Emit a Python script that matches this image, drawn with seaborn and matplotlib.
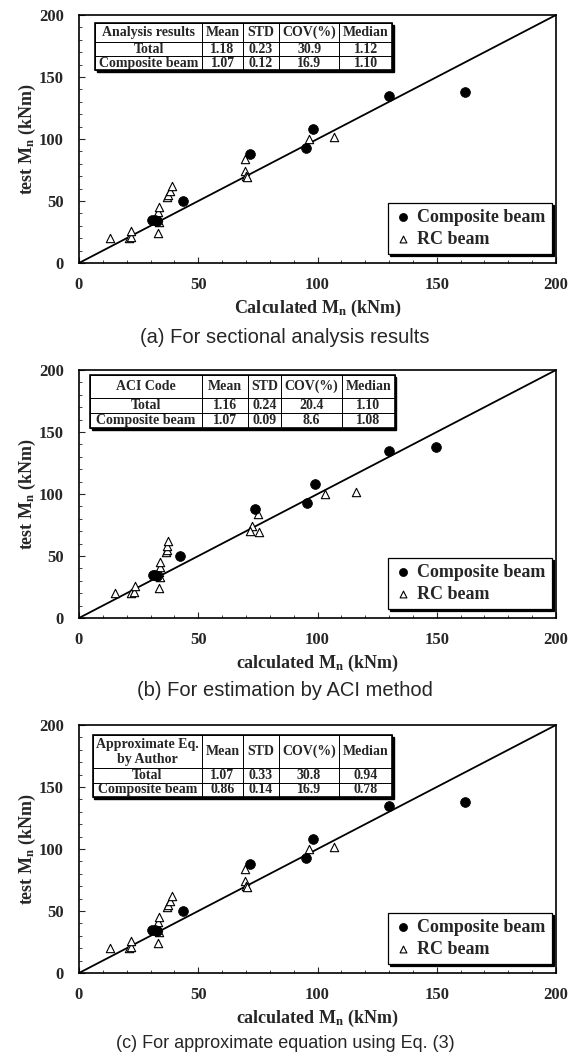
import matplotlib
matplotlib.use("Agg")
import matplotlib.pyplot as plt
from matplotlib.patches import Rectangle
from matplotlib.ticker import MultipleLocator
import pandas as pd
import seaborn as sns

# Measured (test) moment capacities in kNm -- the same specimens in every panel
test_comp = [35, 34.5, 33.5, 50, 88, 93, 108, 135, 138]
test_rc = [20, 20, 21, 26, 24.5, 33, 37, 41, 45, 53, 55, 58, 62, 84, 74, 70, 69, 100, 102]

# Calculated moment capacities (kNm) for each method
calc_comp_a = [30.5, 32, 32.5, 43.5, 71.5, 95, 98, 130, 162]
calc_rc_a = [13, 21, 22, 22, 33, 33.5, 33, 33, 33.5, 37, 37.5, 38, 39, 69.5, 69.5, 70, 70.5, 96.5, 107]

calc_comp_b = [31, 32, 32.5, 42.5, 74, 95.5, 99, 130, 149.5]
calc_rc_b = [15, 22, 23, 23.5, 33.5, 34, 33.5, 34, 34, 36.5, 37, 37, 37.5, 75, 72.5, 71.5, 75.5, 103, 116]

calc_comp_c = [30.5, 32, 32.5, 43.5, 71.5, 95, 98, 130, 162]
calc_rc_c = [13, 21, 22, 22, 33, 33.5, 33, 33, 33.5, 37, 37.5, 38, 39, 69.5, 69.5, 70, 70.5, 96.5, 107]

# Summary statistics tables
stat_cols = ["Mean", "STD", "COV(%)", "Median"]
row_names = ["Total", "Composite beam"]
stats_a = [["1.18", "0.23", "30.9", "1.12"], ["1.07", "0.12", "16.9", "1.10"]]
stats_b = [["1.16", "0.24", "20.4", "1.10"], ["1.07", "0.09", "8.6", "1.08"]]
stats_c = [["1.07", "0.33", "30.8", "0.94"], ["0.86", "0.14", "16.9", "0.78"]]
table_titles = ["Analysis results", "ACI Code", "Approximate Eq.\nby Author"]

x_words = ["Calculated", "calculated", "calculated"]
captions = ["(a) For sectional analysis results",
            "(b) For estimation by ACI method",
            "(c) For approximate equation using Eq. (3)"]
caption_sizes = [14.5, 14.5, 13]

sns.set_style("ticks")
SERIF = "Liberation Serif"
SANS = "Liberation Sans"
plt.rcParams["font.family"] = [SERIF, "DejaVu Serif"]
plt.rcParams["font.weight"] = "bold"
plt.rcParams["mathtext.fontset"] = "custom"
plt.rcParams["mathtext.rm"] = "Liberation Serif:bold"
plt.rcParams["mathtext.bf"] = "Liberation Serif:bold"
plt.rcParams["mathtext.it"] = "Liberation Serif:bold"

fig = plt.figure(figsize=(5.70, 10.54), dpi=100)

W, H = 570.0, 1054.0
ax_left, ax_w = 79 / W, 477 / W
ax_h = 248 / H
bottoms_px = [263, 618, 973]
caption_px = [337, 691, 1043]

panels = [
    (calc_comp_a, calc_rc_a, stats_a, [0.0335, 0.778, 0.623, 0.190], [107, 41, 36, 60, 53], [1.4, 1.0, 1.0]),
    (calc_comp_b, calc_rc_b, stats_b, [0.023, 0.766, 0.639, 0.214], [112, 46, 33, 61, 53], [1.5, 1.0, 1.0]),
    (calc_comp_c, calc_rc_c, stats_c, [0.029, 0.710, 0.627, 0.250], [109, 41, 36, 60, 53], [2.3, 1.0, 1.0]),
]

for i, (cc, cr, stats, tbox, cw, rh) in enumerate(panels):
    b = bottoms_px[i]
    ax = fig.add_axes([ax_left, 1 - b / H, ax_w, ax_h])

    df_c = pd.DataFrame({"calc": cc, "test": test_comp})
    df_r = pd.DataFrame({"calc": cr, "test": test_rc})

    # line of equality
    sns.lineplot(x=[0, 200], y=[0, 200], color="black", linewidth=1.3, ax=ax, zorder=2)

    sns.scatterplot(data=df_c, x="calc", y="test", marker="o", s=50, color="black",
                    edgecolor="black", linewidth=0.5, ax=ax, zorder=4, label="Composite beam")
    sns.scatterplot(data=df_r, x="calc", y="test", marker="^", s=36, color="white",
                    edgecolor="black", linewidth=0.8, ax=ax, zorder=3, label="RC beam")

    ax.set_xlim(0, 200)
    ax.set_ylim(0, 200)
    ax.xaxis.set_major_locator(MultipleLocator(50))
    ax.yaxis.set_major_locator(MultipleLocator(50))
    ax.xaxis.set_minor_locator(MultipleLocator(10))
    ax.yaxis.set_minor_locator(MultipleLocator(10))
    ax.tick_params(which="major", direction="in", length=4, width=0.8,
                   labelsize=12, top=False, right=False)
    ax.tick_params(which="minor", direction="in", length=2.5, width=0.6,
                   top=False, right=False)
    ax.tick_params(axis="x", which="major", pad=10)
    ax.tick_params(axis="y", which="major", pad=11)
    for lab in ax.get_xticklabels() + ax.get_yticklabels():
        lab.set_fontweight("bold")
        lab.set_family(SERIF)
    for sp in ax.spines.values():
        sp.set_visible(True)
        sp.set_linewidth(1.2)
        sp.set_color("black")

    ax.set_xlabel(x_words[i] + r" M$_\mathbf{n}$ (kNm)", fontsize=13, fontweight="bold")
    ax.set_ylabel(r"test M$_\mathbf{n}$ (kNm)", fontsize=13, fontweight="bold")
    ax.xaxis.set_label_coords(0.5, -0.141)
    ax.xaxis.label.set_va("top")
    ax.yaxis.set_label_coords(-0.087, 0.5)

    leg = ax.legend(loc="lower right", bbox_to_anchor=(0.992, 0.036), frameon=True,
                    fancybox=False, shadow={"color": "black", "alpha": 1.0, "ox": 1.5, "oy": -1.5},
                    prop={"family": SERIF, "weight": "bold", "size": 13},
                    handletextpad=0.3, handlelength=1.0, borderpad=0.35,
                    labelspacing=0.25, borderaxespad=0.0)
    leg.get_frame().set_edgecolor("black")
    leg.get_frame().set_linewidth(0.9)
    leg.legend_handles[0].set_sizes([34])
    leg.legend_handles[1].set_sizes([24])

    # statistics table
    cell_text = [[table_titles[i]] + stat_cols] + [[row_names[k]] + stats[k] for k in range(2)]
    tot = float(sum(cw))
    tb = ax.table(cellText=cell_text, cellLoc="center",
                  colWidths=[c / tot for c in cw], bbox=tbox, zorder=6)
    tb.auto_set_font_size(False)
    tb.set_fontsize(10)
    for (r, c), cell in tb.get_celld().items():
        cell.set_height(rh[r])
        cell.set_linewidth(0.7)
        cell.set_edgecolor("black")
        cell.set_facecolor("white")
        cell.get_text().set_fontweight("bold")
        cell.get_text().set_family(SERIF)
        cell.PAD = 0.02
    # table outline with drop shadow
    x0, y0, tw, th = tbox
    dx, dy = 1.6 / 477, 1.6 / 248
    ax.add_patch(Rectangle((x0 + dx, y0 - dy), tw, th, transform=ax.transAxes,
                           facecolor="black", edgecolor="black", zorder=5, clip_on=False))
    ax.add_patch(Rectangle((x0, y0), tw, th, transform=ax.transAxes,
                           facecolor="none", edgecolor="black", linewidth=1.2,
                           zorder=7, clip_on=False))

    fig.text(0.5, 1 - caption_px[i] / H, captions[i], ha="center", va="center",
             fontsize=caption_sizes[i], family=SANS, fontweight="normal")

fig.savefig("out.png", dpi=100)
